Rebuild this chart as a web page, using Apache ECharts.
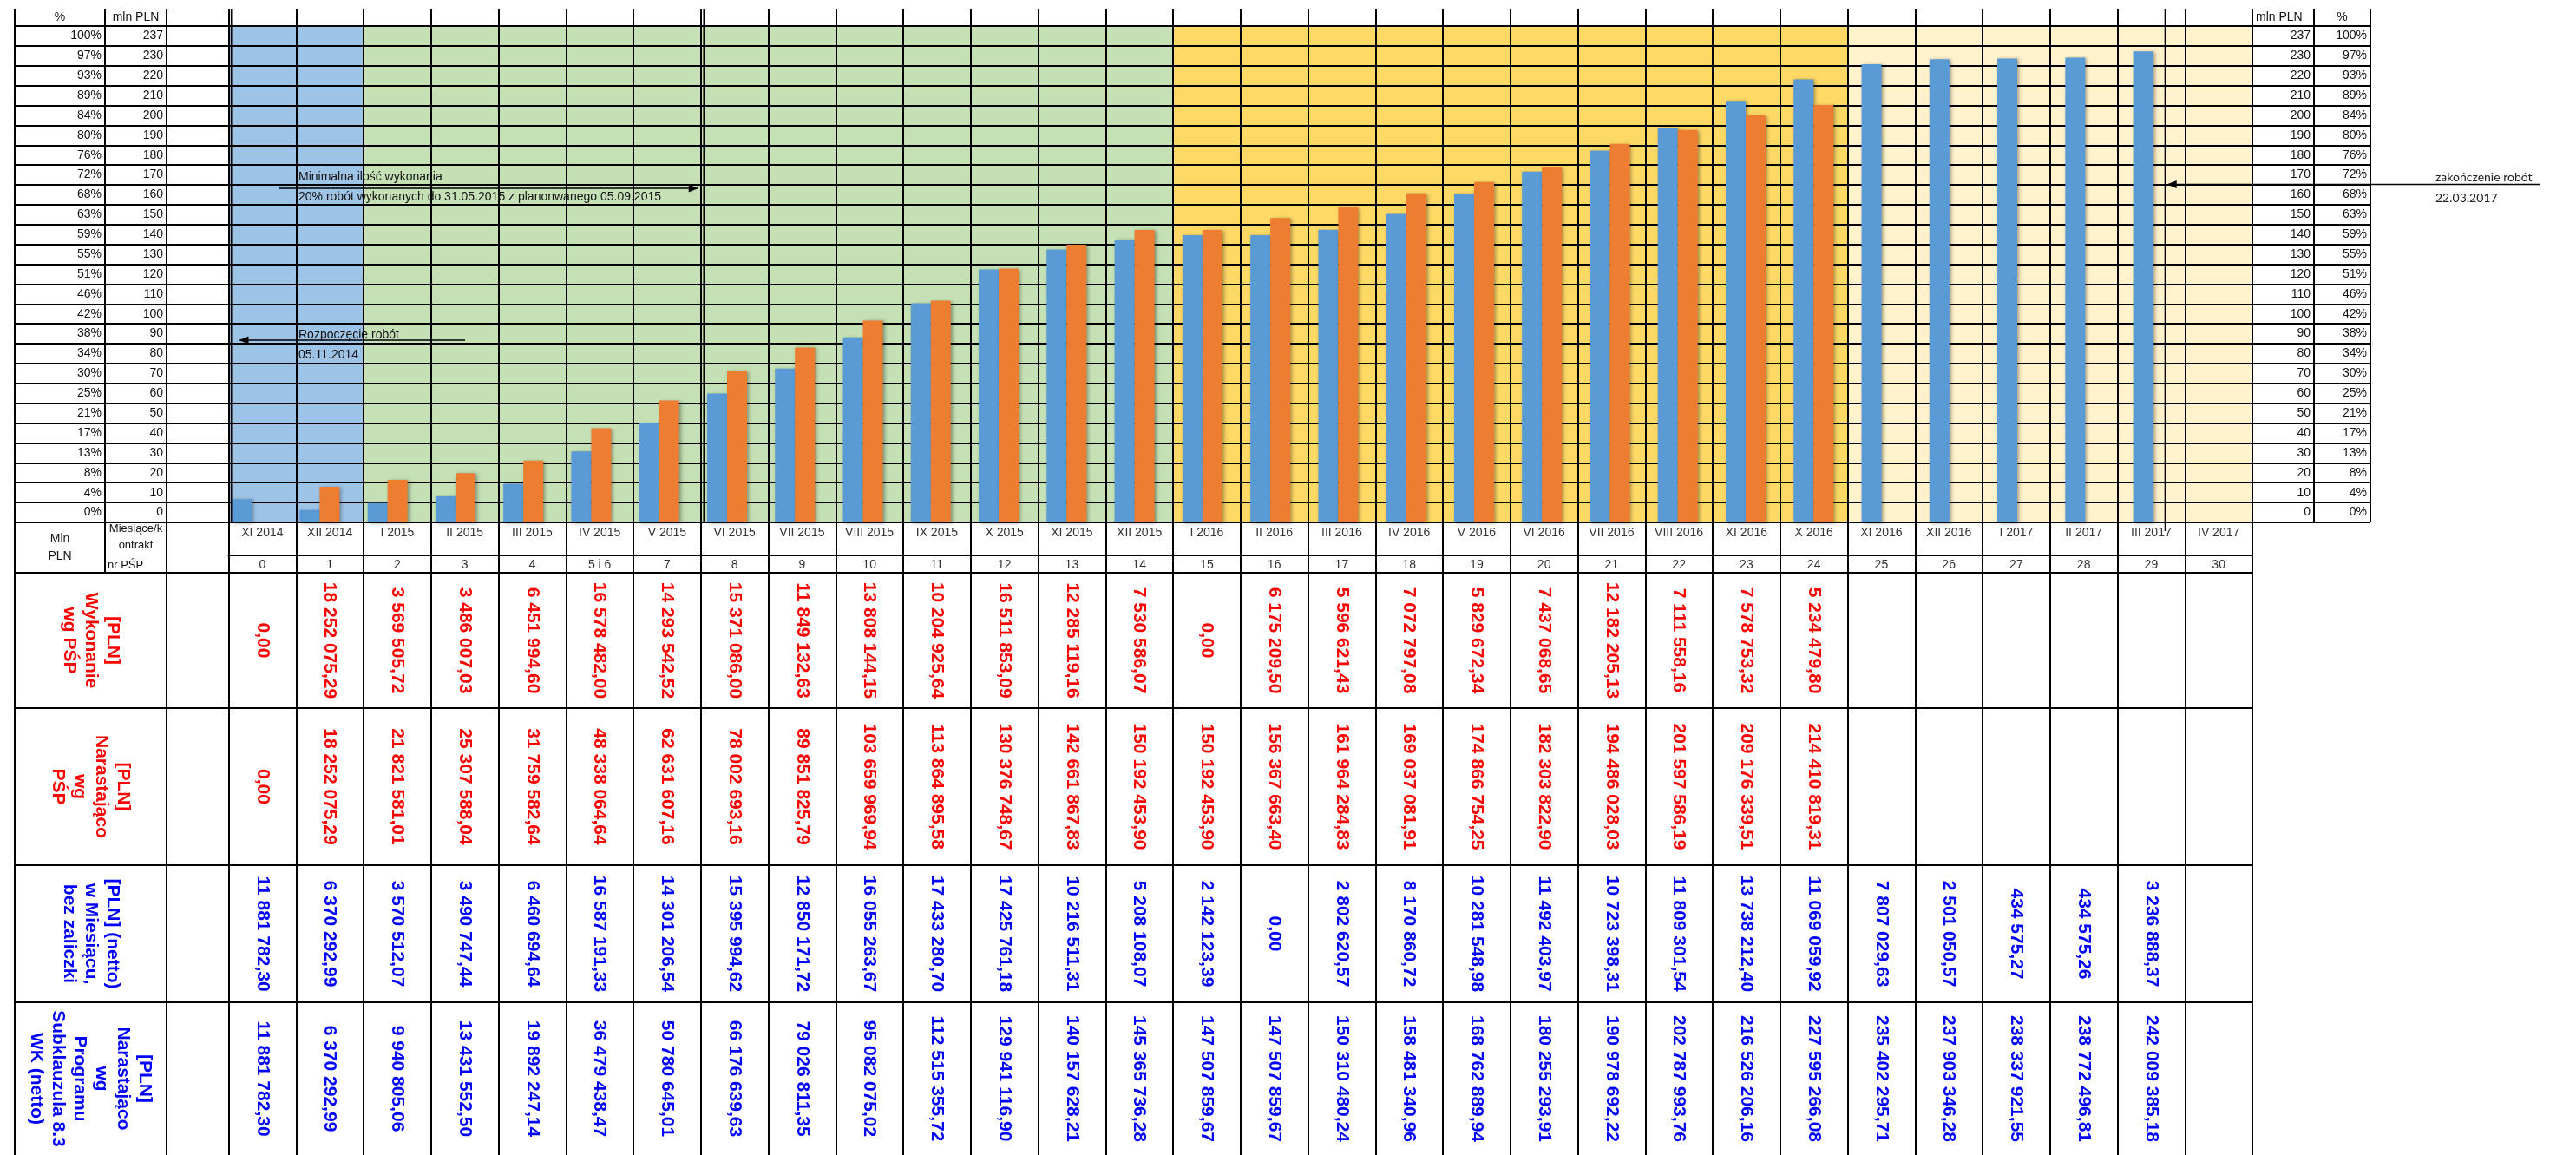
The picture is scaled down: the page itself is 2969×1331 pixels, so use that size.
<!DOCTYPE html>
<html><head><meta charset="utf-8">
<script src="https://cdn.jsdelivr.net/npm/echarts/dist/echarts.min.js"></script>
<style>html,body{margin:0;padding:0;background:#fff}#c{width:2969px;height:1331px}</style>
</head><body><div id="c"></div>
<script>
// ---------------- DATA ----------------
const months = ["XI 2014","XII 2014","I 2015","II 2015","III 2015","IV 2015","V 2015","VI 2015","VII 2015","VIII 2015","IX 2015","X 2015","XI 2015","XII 2015","I 2016","II 2016","III 2016","IV 2016","V 2016","VI 2016","VII 2016","VIII 2016","XI 2016","X 2016","XI 2016","XII 2016","I 2017","II 2017","III 2017","IV 2017"];
const pspNumbers = ["0","1","2","3","4","5 i 6","7","8","9","10","11","12","13","14","15","16","17","18","19","20","21","22","23","24","25","26","27","28","29","30"];
const mlnTicks = ["0","10","20","30","40","50","60","70","80","90","100","110","120","130","140","150","160","170","180","190","200","210","220","230","237"];
const pctTicks = ["0%","4%","8%","13%","17%","21%","25%","30%","34%","38%","42%","46%","51%","55%","59%","63%","68%","72%","76%","80%","84%","89%","93%","97%","100%"];

const wykonaniePSP = ["0,00","18 252 075,29","3 569 505,72","3 486 007,03","6 451 994,60","16 578 482,00","14 293 542,52","15 371 086,00","11 849 132,63","13 808 144,15","10 204 925,64","16 511 853,09","12 285 119,16","7 530 586,07","0,00","6 175 209,50","5 596 621,43","7 072 797,08","5 829 672,34","7 437 068,65","12 182 205,13","7 111 558,16","7 578 753,32","5 234 479,80","","","","","",""];
const narastajacoPSP = ["0,00","18 252 075,29","21 821 581,01","25 307 588,04","31 759 582,64","48 338 064,64","62 631 607,16","78 002 693,16","89 851 825,79","103 659 969,94","113 864 895,58","130 376 748,67","142 661 867,83","150 192 453,90","150 192 453,90","156 367 663,40","161 964 284,83","169 037 081,91","174 866 754,25","182 303 822,90","194 486 028,03","201 597 586,19","209 176 339,51","214 410 819,31","","","","","",""];
const miesiacNetto = ["11 881 782,30","6 370 292,99","3 570 512,07","3 490 747,44","6 460 694,64","16 587 191,33","14 301 206,54","15 395 994,62","12 850 171,72","16 055 263,67","17 433 280,70","17 425 761,18","10 216 511,31","5 208 108,07","2 142 123,39","0,00","2 802 620,57","8 170 860,72","10 281 548,98","11 492 403,97","10 723 398,31","11 809 301,54","13 738 212,40","11 069 059,92","7 807 029,63","2 501 050,57","434 575,27","434 575,26","3 236 888,37",""];
const narastajacoProgram = ["11 881 782,30","6 370 292,99","9 940 805,06","13 431 552,50","19 892 247,14","36 479 438,47","50 780 645,01","66 176 639,63","79 026 811,35","95 082 075,02","112 515 355,72","129 941 116,90","140 157 628,21","145 365 736,28","147 507 859,67","147 507 859,67","150 310 480,24","158 481 340,96","168 762 889,94","180 255 293,91","190 978 692,22","202 787 993,76","216 526 206,16","227 595 266,08","235 402 295,71","237 903 346,28","238 337 921,55","238 772 496,81","242 009 385,18",""];

const rowTitles = ["[PLN]\nWykonanie\nwg PŚP","[PLN]\nNarastająco\nwg\nPŚP","[PLN] (netto)\nw Miesiącu,\nbez zaliczki","[PLN]\nNarastająco\nwg\nProgramu\nSubklauzula 8.3\nWK (netto)"];

// ---------------- LAYOUT / STYLE ----------------
const FONT = '"Liberation Sans", Arial, sans-serif';
const L = { left:17, c1:121, c2:192, cells:263.5, cellsR:2596, r1:2667, r2:2732,
  headTop:10, plotTop:30, plotBot:602, monthBot:640, pspBot:660,
  rows:[660,816,997,1155,1331], barLeft:251, barRight:2599 };
const colW = (L.cellsR - L.cells) / months.length;
const PHASES = [{from:0,to:1,color:'#9DC3E6'},{from:2,to:13,color:'#C5E0B4'},{from:14,to:23,color:'#FFD966'},{from:24,to:29,color:'#FFF2CC'}];
const RED = '#FF0000', BLUE = '#0000FF', TXT = '#111';
const LS = {color:'#000', width:2};

function parsePL(s){ return s ? parseFloat(s.replace(/\s/g,'').replace(',','.')) : null; }
function phaseColor(i){ for (const p of PHASES) if (i>=p.from && i<=p.to) return p.color; return '#fff'; }
function colX(pos){ return L.cells + pos*colW; }

// ---------------- GRIDS / AXES ----------------
const grids = [
  {left:L.cells, top:L.headTop, width:L.cellsR-L.cells, height:L.plotBot-L.headTop},
  {left:L.left, top:L.plotTop, width:L.r2-L.left, height:L.plotBot-L.plotTop},
  {left:L.barLeft, top:L.plotTop, width:L.barRight-L.barLeft, height:L.plotBot-L.plotTop}
];
for (let r=0;r<4;r++) grids.push({left:L.cells, top:L.rows[r], width:L.cellsR-L.cells, height:L.rows[r+1]-L.rows[r]});
grids.forEach(g=>{ g.containLabel=false; g.outerBoundsMode='none'; g.show=false; });

const xAxes = [
  {gridIndex:0, type:'category', data:months, position:'bottom', z:1,
   axisLine:{show:true, lineStyle:LS}, axisTick:{show:true, interval:0, length:L.pspBot-L.plotBot, lineStyle:LS},
   axisLabel:{show:true, interval:0, margin:5, fontSize:14, fontFamily:FONT, color:'#333'},
   splitLine:{show:true, interval:0, lineStyle:LS}},
  {gridIndex:0, type:'category', data:pspNumbers, position:'bottom', offset:L.monthBot-L.plotBot, z:1,
   axisLine:{show:true, lineStyle:LS}, axisTick:{show:false},
   axisLabel:{show:true, interval:0, margin:4, fontSize:14, fontFamily:FONT, color:'#333'}, splitLine:{show:false}},
  {gridIndex:1, type:'value', min:0, max:1, show:false},
  {gridIndex:2, type:'category', data:months, show:false}
];
for (let r=0;r<4;r++) xAxes.push({gridIndex:3+r, type:'category', data:months, z:1,
  axisLine:{show:false}, axisTick:{show:false}, axisLabel:{show:false},
  splitLine:{show:true, interval:0, lineStyle:LS}});

const tickLabel = (margin)=>({show:true, inside:true, align:'right', interval:0, margin, fontSize:14, fontFamily:FONT, color:TXT});
const yAxes = [
  {gridIndex:0, type:'value', min:0, max:1, show:false},
  {gridIndex:1, type:'category', data:mlnTicks, position:'left', z:1, axisLine:{show:false}, axisTick:{show:false},
   axisLabel:tickLabel(188-L.left), splitLine:{show:true, interval:0, lineStyle:LS}},
  {gridIndex:1, type:'category', data:pctTicks, position:'left', z:1, axisLine:{show:false}, axisTick:{show:false},
   axisLabel:tickLabel(117-L.left), splitLine:{show:false}},
  {gridIndex:1, type:'category', data:mlnTicks, position:'right', z:1, axisLine:{show:false}, axisTick:{show:false},
   axisLabel:tickLabel(L.r2-2663), splitLine:{show:false}},
  {gridIndex:1, type:'category', data:pctTicks, position:'right', z:1, axisLine:{show:false}, axisTick:{show:false},
   axisLabel:tickLabel(L.r2-2728), splitLine:{show:false}},
  {gridIndex:2, type:'value', min:0, max:255, show:false}
];
for (let r=0;r<4;r++) yAxes.push({gridIndex:3+r, type:'value', min:0, max:1, show:false});

// ---------------- SERIES ----------------
const HEAD = L.plotTop - L.headTop;
const series = [
  {type:'custom', name:'fill', xAxisIndex:0, yAxisIndex:0, z:0, silent:true,
   data: months.map((m,i)=>[i]),
   renderItem(params, api){
     const i = api.value(0); const c = api.coord([i,0]); const w = api.size([1,0])[0]; const cs = params.coordSys;
     return {type:'rect', shape:{x:c[0]-w/2, y:cs.y+HEAD, width:w, height:cs.height-HEAD}, style:{fill:phaseColor(i)}};
   }},
  {type:'bar', name:'Narastająco wg Programu', xAxisIndex:3, yAxisIndex:5, z:3, barWidth:23, barGap:'0%',
   data: narastajacoProgram.map(s=> s ? parsePL(s)/1e6 : null),
   itemStyle:{color:'#5B9BD5', shadowBlur:4, shadowColor:'rgba(0,0,0,0.35)', shadowOffsetX:2, shadowOffsetY:1}},
  {type:'bar', name:'Narastająco wg PŚP', xAxisIndex:3, yAxisIndex:5, z:3, barWidth:23, barGap:'0%',
   data: narastajacoPSP.map(s=> s ? parsePL(s)/1e6 : null),
   itemStyle:{color:'#ED7D31', shadowBlur:4, shadowColor:'rgba(0,0,0,0.35)', shadowOffsetX:2, shadowOffsetY:1}}
];
const tableRows = [[wykonaniePSP,RED],[narastajacoPSP,RED],[miesiacNetto,BLUE],[narastajacoProgram,BLUE]];
tableRows.forEach(([arr,color],r)=>{
  series.push({type:'custom', xAxisIndex:4+r, yAxisIndex:6+r, z:5, silent:true,
    data: arr.map((v,i)=>[i]),
    renderItem(params, api){
      const i = api.value(0); const t = arr[i]; if (!t) return null;
      const c = api.coord([i,0.5]);
      return {type:'text', x:c[0], y:c[1], rotation:-Math.PI/2,
        style:{text:t, fill:color, font:'bold 21px '+FONT, align:'center', verticalAlign:'middle'}};
    }});
});

// ---------------- GRAPHIC (table rules & annotations) ----------------
const g = [];
function vline(x,y1,y2,w){ g.push({type:'line', z:10, silent:true, shape:{x1:x,y1:y1,x2:x,y2:y2}, style:{stroke:'#000', lineWidth:w||2}}); }
function hline(y,x1,x2,w){ g.push({type:'line', z:10, silent:true, shape:{x1:x1,y1:y,x2:x2,y2:y}, style:{stroke:'#000', lineWidth:w||2}}); }
function txt(x,y,t,o){ o=o||{}; g.push({type:'text', z:11, silent:true, x:x, y:y, rotation:o.rot||0,
  style:{text:t, fill:o.color||TXT, font:o.font||('14px '+FONT), align:o.align||'left', verticalAlign:'middle', lineHeight:o.lh}}); }
function arrow(x1,x2,y){ // shaft from x1 to tip x2
  hline(y, x1, x2, 1.6);
  const d = x2 > x1 ? 1 : -1;
  g.push({type:'polygon', z:12, silent:true, shape:{points:[[x2+d*1,y],[x2-d*10,y-4.5],[x2-d*10,y+4.5]]}, style:{fill:'#000'}});
}

vline(L.left, L.headTop, L.rows[4]);
vline(L.c1, L.headTop, L.pspBot);
vline(L.c2, L.headTop, L.rows[4]);
vline(L.cells+3.2, L.headTop, L.plotBot, 1.6);
vline(L.r1, L.headTop, L.plotBot);
vline(L.r2, L.headTop, L.plotBot);
vline(colX(7)+3.5, L.headTop, L.plotBot, 1.6);
for (let r=0;r<4;r++) hline(L.rows[r], L.left, L.cellsR);

// header texts
txt((L.left+L.c1)/2, 20, '%', {align:'center'});
txt((L.c1+L.c2)/2, 20, 'mln PLN', {align:'center'});
txt(L.cellsR+4, 20, 'mln PLN');
txt((L.r1+L.r2)/2, 20, '%', {align:'center'});
txt((L.left+L.c1)/2, 631, 'Mln\nPLN', {align:'center', lh:20});
txt((L.c1+L.c2)/2, 619, 'Miesiące/k\nontrakt', {align:'center', lh:19, font:'13px '+FONT});
txt(L.c1+3, 651, 'nr PŚP', {font:'13px '+FONT});
rowTitles.forEach((t,r)=>{
  txt((L.left+L.c2)/2, (L.rows[r]+L.rows[r+1])/2, t, {rot:-Math.PI/2, align:'center', lh:25,
    color: r<2 ? RED : BLUE, font:'bold 21px '+FONT});
});

// annotations
txt(344, 204, 'Minimalna ilość wykonania');
txt(344, 227, '20% robót wykonanych do 31.05.2015 z planonwanego 05.09.2015');
arrow(322, colX(7)-4, 217);
txt(344, 386, 'Rozpoczęcie robót');
txt(344, 409, '05.11.2014');
arrow(536, colX(5/30), 392);
const endX = colX(28 + 22/31);
vline(endX, L.headTop, 612);
arrow(2927, endX+3, 212.5);
txt(2807, 204, 'zakończenie robót', {font:'14px Lato, "Open Sans", sans-serif', color:'#222'});
txt(2807, 228, '22.03.2017', {font:'14px Lato, "Open Sans", sans-serif', color:'#222'});

const chart = echarts.init(document.getElementById('c'));
chart.setOption({
  animation:false, backgroundColor:'#fff',
  grid:grids, xAxis:xAxes, yAxis:yAxes, series:series,
  graphic:{elements:g}
});
</script></body></html>
